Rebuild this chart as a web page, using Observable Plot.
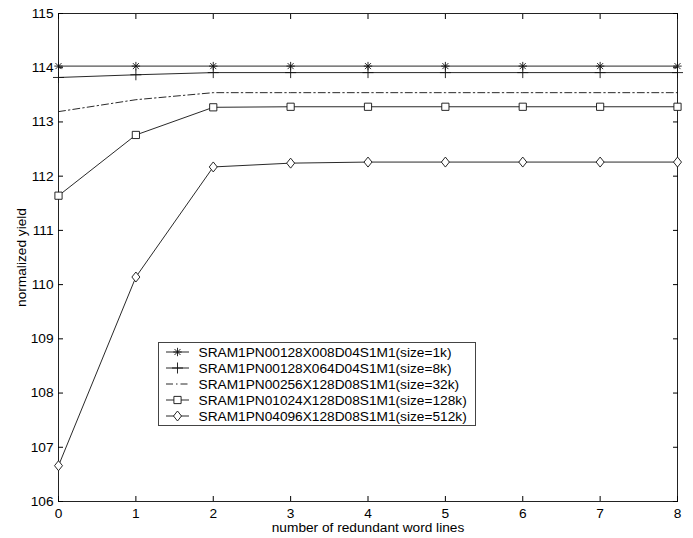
<!DOCTYPE html>
<html><head><meta charset="utf-8">
<script src="https://cdn.jsdelivr.net/npm/d3@7"></script>
<script src="https://cdn.jsdelivr.net/npm/@observablehq/plot@0.6"></script>
<style>
body{margin:0;background:#fff;}
#wrap{position:relative;width:693px;height:538px;font-family:"Liberation Sans",Arial,sans-serif;}
#legend{position:absolute;left:158px;top:342px;width:318px;height:84px;border:1px solid #444;background:#fff;box-sizing:border-box;}
</style></head><body><div id="wrap"></div>
<script>
// ---- data ----
const redundantLines = [0, 1, 2, 3, 4, 5, 6, 7, 8];
const xTicks = [0, 1, 2, 3, 4, 5, 6, 7, 8];
const yTicks = [106, 107, 108, 109, 110, 111, 112, 113, 114, 115];
const seriesNames = [
  "SRAM1PN00128X008D04S1M1(size=1k)",
  "SRAM1PN00128X064D04S1M1(size=8k)",
  "SRAM1PN00256X128D08S1M1(size=32k)",
  "SRAM1PN01024X128D08S1M1(size=128k)",
  "SRAM1PN04096X128D08S1M1(size=512k)"
];
const yield1k   = [114.03, 114.03, 114.03, 114.03, 114.03, 114.03, 114.03, 114.03, 114.03];
const yield8k   = [113.82, 113.87, 113.91, 113.91, 113.91, 113.91, 113.91, 113.91, 113.91];
const yield32k  = [113.19, 113.41, 113.54, 113.54, 113.54, 113.54, 113.54, 113.54, 113.54];
const yield128k = [111.64, 112.76, 113.27, 113.28, 113.28, 113.28, 113.28, 113.28, 113.28];
const yield512k = [106.66, 110.14, 112.17, 112.24, 112.26, 112.26, 112.26, 112.26, 112.26];

// ---- marker shapes ----
const rad = s => Math.sqrt(s / Math.PI);
const symStar = {draw(c, s){const r = rad(s), d = r*0.72;
  c.moveTo(-r,0);c.lineTo(r,0);c.moveTo(0,-r);c.lineTo(0,r);
  c.moveTo(-d,-d);c.lineTo(d,d);c.moveTo(-d,d);c.lineTo(d,-d);}};
const symPlus = {draw(c, s){const r = rad(s);
  c.moveTo(-r,0);c.lineTo(r,0);c.moveTo(0,-r);c.lineTo(0,r);}};
const symNone = {draw(c, s){}};
const symSquare = {draw(c, s){const r = rad(s);
  c.moveTo(-r,-r);c.lineTo(r,-r);c.lineTo(r,r);c.lineTo(-r,r);c.closePath();}};
const symDiamond = {draw(c, s){const r = rad(s), w = r*0.8;
  c.moveTo(0,-r);c.lineTo(w,0);c.lineTo(0,r);c.lineTo(-w,0);c.closePath();}};

const series = [
  {name: seriesNames[0], values: yield1k,   symbol: symStar,    r: 4.2, dash: null},
  {name: seriesNames[1], values: yield8k,   symbol: symPlus,    r: 5.5, dash: null},
  {name: seriesNames[2], values: yield32k,  symbol: symNone,    r: 1,   dash: "7,3,1.5,3"},
  {name: seriesNames[3], values: yield128k, symbol: symSquare,  r: 3.6, dash: null},
  {name: seriesNames[4], values: yield512k, symbol: symDiamond, r: 5,   dash: null}
];
const rows = s => redundantLines.map((x, i) => ({x, y: s.values[i]}));

const ink = "#111";
const marks = [];
series.forEach(s => {
  marks.push(Plot.line(rows(s), {x: "x", y: "y", stroke: ink, strokeWidth: 0.9, strokeDasharray: s.dash}));
});
series.forEach(s => {
  if (s.symbol !== symNone)
    marks.push(Plot.dot(rows(s), {x: "x", y: "y", symbol: s.symbol, r: s.r, stroke: ink, strokeWidth: 0.9, fill: (s.symbol===symSquare||s.symbol===symDiamond) ? "white" : "none"}));
});

const chart = Plot.plot({
  width: 693, height: 538,
  marginLeft: 58, marginRight: 16, marginTop: 13, marginBottom: 37,
  style: {fontFamily: '"Liberation Sans", Arial, sans-serif', fontSize: "13.4px", color: "#000", background: "#fff"},
  x: {domain: [0, 8]},
  y: {domain: [106, 115]},
  marks: [
    Plot.frame({stroke: "#222", strokeWidth: 1}),
    Plot.axisX(xTicks, {anchor: "bottom", tickSize: -5, tickPadding: 11.5, label: "number of redundant word lines", labelAnchor: "center", labelOffset: 30.5, labelArrow: "none", fontSize: 13.7, tickFormat: d => d}),
    Plot.axisX(xTicks, {anchor: "top", tickSize: -5, tickFormat: () => "", label: null}),
    Plot.axisY(yTicks, {anchor: "left", tickSize: -5, tickPadding: 10, label: "normalized yield", labelAnchor: "center", labelOffset: 42, labelArrow: "none", fontSize: 13.7, tickFormat: d => d}),
    Plot.axisY(yTicks, {anchor: "right", tickSize: -5, tickFormat: () => "", label: null}),
    ...marks
  ]
});
const wrap = document.getElementById("wrap");
wrap.appendChild(chart);

// ---- legend overlay ----
const leg = document.createElement("div");
leg.id = "legend";
wrap.appendChild(leg);
const ls = d3.select(leg).append("svg").attr("width", 316).attr("height", 82).style("display","block");
series.forEach((s, i) => {
  const cy = 9 + 16 * i;
  const g = ls.append("g");
  g.append("line").attr("x1", 7).attr("x2", 30).attr("y1", cy).attr("y2", cy)
    .attr("stroke", ink).attr("stroke-width", 0.9).attr("stroke-dasharray", s.dash);
  if (s.symbol !== symNone) {
    const p = d3.path(); s.symbol.draw(p, Math.PI * s.r * s.r);
    g.append("path").attr("d", p.toString()).attr("transform", `translate(18.5,${cy})`)
      .attr("stroke", ink).attr("stroke-width", 0.9)
      .attr("fill", (s.symbol===symSquare||s.symbol===symDiamond) ? "white" : "none");
  }
  g.append("text").attr("x", 39.5).attr("y", cy).attr("dy", "0.36em")
    .attr("font-size", 13.7).attr("font-family", '"Liberation Sans", Arial, sans-serif')
    .text(s.name);
});
</script></body></html>
